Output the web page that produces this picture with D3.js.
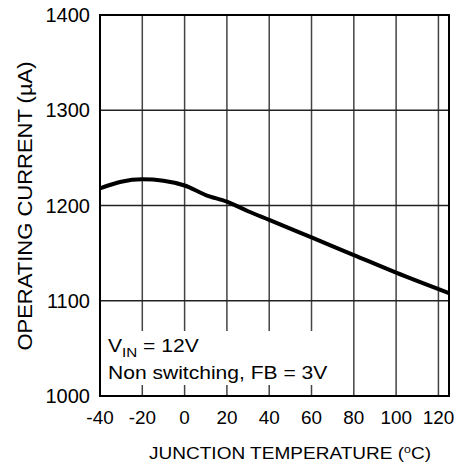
<!DOCTYPE html>
<html>
<head>
<meta charset="utf-8">
<script src="https://cdn.jsdelivr.net/npm/d3@7"></script>
<style>
  body { margin: 0; background: #fff; }
  text { font-family: "Liberation Sans", Arial, sans-serif; fill: #000; }
</style>
</head>
<body>
<svg width="464" height="471"></svg>
<script>
// curve
var temps = [-40, -30, -20, -10, 0, 10, 20, 30, 40, 60, 80, 100, 125];
var current = [1218, 1225, 1227.5, 1226, 1221, 1211, 1204, 1194, 1185, 1166.5, 1148, 1129.5, 1108];

var xTicks = [-40, -20, 0, 20, 40, 60, 80, 100, 120];
var yTicks = [1000, 1100, 1200, 1300, 1400];

var margin = {left: 100, top: 15, right: 15, bottom: 75};
var width = 464, height = 471;

var svg = d3.select('svg');

var x = d3.scaleLinear().domain([-40, 125]).range([margin.left, width - margin.right]);
var y = d3.scaleLinear().domain([1000, 1400]).range([height - margin.bottom, margin.top]);

// vertical grid
svg.append('g')
  .selectAll('line')
  .data(xTicks.slice(1))
  .enter().append('line')
  .attr('x1', function (d) { return x(d); })
  .attr('x2', function (d) { return x(d); })
  .attr('y1', y(1400))
  .attr('y2', y(1000))
  .style('stroke', '#444')
  .style('stroke-width', 1.5);

// horizontal grid
svg.append('g')
  .selectAll('line')
  .data(yTicks.slice(1, -1))
  .enter().append('line')
  .attr('x1', x(-40))
  .attr('x2', x(125))
  .attr('y1', function (d) { return y(d); })
  .attr('y2', function (d) { return y(d); })
  .style('stroke', '#222')
  .style('stroke-width', 1.5);

// the curve
var line = d3.line()
  .x(function (d) { return x(d[0]); })
  .y(function (d) { return y(d[1]); })
  .curve(d3.curveMonotoneX);

svg.append('path')
  .datum(d3.zip(temps, current))
  .attr('d', line)
  .style('fill', 'none')
  .style('stroke', '#000')
  .style('stroke-width', 4);

// note box covers the grid
svg.append('rect')
  .attr('x', x(-40) + 2)
  .attr('y', 331)
  .attr('width', 228)
  .attr('height', 54)
  .style('fill', '#fff');

var note = svg.append('text')
  .attr('transform', 'translate(108,352) scale(1.17,1)')
  .style('font-size', '18px');
note.append('tspan').text('V');
note.append('tspan').attr('dy', 5).style('font-size', '13px').text('IN');
note.append('tspan').attr('dy', -5).text(' = 12V');

svg.append('text')
  .attr('transform', 'translate(108,379) scale(1.17,1)')
  .style('font-size', '18px')
  .text('Non switching, FB = 3V');

// frame
svg.append('rect')
  .attr('x', x(-40))
  .attr('y', y(1400))
  .attr('width', x(125) - x(-40))
  .attr('height', y(1000) - y(1400))
  .style('fill', 'none')
  .style('stroke', '#000')
  .style('stroke-width', 2);

// tick labels
svg.append('g')
  .selectAll('text')
  .data(xTicks)
  .enter().append('text')
  .attr('transform', function (d) { return 'translate(' + x(d) + ',424) scale(1.05,1)'; })
  .attr('text-anchor', 'middle')
  .style('font-size', '18px')
  .text(function (d) { return d; });

svg.append('g')
  .selectAll('text')
  .data(yTicks)
  .enter().append('text')
  .attr('x', 90)
  .attr('y', function (d) { return y(d); })
  .attr('dy', '0.36em')
  .attr('text-anchor', 'end')
  .style('font-size', '20px')
  .text(function (d) { return d; });

// axis titles
var xt = svg.append('text')
  .attr('transform', 'translate(290,459) scale(1.12,1)')
  .attr('text-anchor', 'middle')
  .style('font-size', '17px');
xt.append('tspan').text('JUNCTION TEMPERATURE (');
xt.append('tspan').attr('dy', -6).style('font-size', '11px').text('o');
xt.append('tspan').attr('dy', 6).text('C)');

svg.append('text')
  .attr('transform', 'translate(32,206) rotate(-90) scale(1.1,1)')
  .attr('text-anchor', 'middle')
  .style('font-size', '20px')
  .text('OPERATING CURRENT (\u00b5A)');
</script>
</body>
</html>
